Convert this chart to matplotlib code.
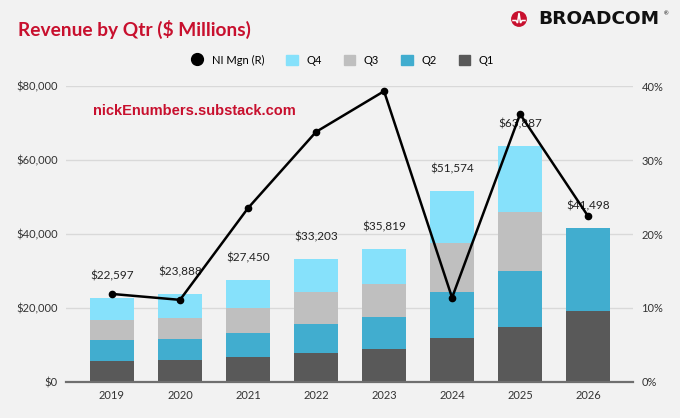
import matplotlib.pyplot as plt
from matplotlib.patches import Circle
from matplotlib.lines import Line2D
from matplotlib.patches import Patch
import numpy as np

plt.rcParams["font.family"] = ["Lato", "DejaVu Sans"]

anos = ["2019", "2020", "2021", "2022", "2023", "2024", "2025", "2026"]
q1 = [5789, 5858, 6655, 7706, 8915, 11961, 14916, 19311]
q2 = [5517, 5742, 6610, 8103, 8733, 12487, 15004, 22187]
q3 = [5515, 5821, 6778, 8464, 8876, 13072, 15952, 0]
q4 = [5776, 6467, 7407, 8930, 9295, 14054, 18015, 0]
ni_mgn = [11.9, 11.1, 23.5, 33.8, 39.3, 11.4, 36.2, 22.4]

cor_q1 = "#595959"
cor_q2 = "#41adcf"
cor_q3 = "#bfbfbf"
cor_q4 = "#86e1fb"
fundo = "#f2f2f2"
vermelho = "#c8102e"

fig = plt.figure(figsize=(6.8, 4.18), dpi=100, facecolor=fundo)
ax = fig.add_axes([66 / 680, 1 - 382 / 418, 567 / 680, 296 / 418])
ax.set_facecolor(fundo)

x = np.arange(len(anos))
largura = 0.65
base = np.zeros(len(anos))
for vals, cor in [(q1, cor_q1), (q2, cor_q2), (q3, cor_q3), (q4, cor_q4)]:
    ax.bar(x, vals, largura, bottom=base, color=cor, zorder=2)
    base = base + np.array(vals)

totais = base
for xi, tot in zip(x, totais):
    ax.annotate(f"${int(tot):,}", (xi, tot), xytext=(0, 12), textcoords="offset points",
                ha="center", va="bottom", fontsize=8.5, color="#222222", zorder=5)

ax.set_ylim(0, 80000)
ax.set_xlim(-0.676, 7.66)
ax.set_yticks(range(0, 80001, 20000))
ax.set_yticklabels([f"${v:,}" for v in range(0, 80001, 20000)], fontsize=8, color="#333333")
ax.set_xticks(x)
ax.set_xticklabels(anos, fontsize=8, color="#333333")
ax.tick_params(length=0, pad=6)
ax.grid(axis="y", color="#d9d9d9", linewidth=1, zorder=0)
for s in ["top", "right", "left"]:
    ax.spines[s].set_visible(False)
ax.spines["bottom"].set_color("#6f6f6f")
ax.spines["bottom"].set_linewidth(1.6)

# eixo direito (margem líquida)
ax2 = ax.twinx()
ax2.plot(x, ni_mgn, color="black", linewidth=1.8, marker="o", markersize=4.5, zorder=4)
ax2.set_ylim(0, 40)
ax2.set_yticks(range(0, 41, 10))
ax2.set_yticklabels([f"{v}%" for v in range(0, 41, 10)], fontsize=8, color="#333333")
ax2.tick_params(length=0, pad=6)
for s in ["top", "right", "left", "bottom"]:
    ax2.spines[s].set_visible(False)
ax2.patch.set_visible(False)

# camada por cima de tudo em pixels para o logo e títulos
topo = fig.add_axes([0, 0, 1, 1])
topo.set_xlim(0, 680)
topo.set_ylim(418, 0)
topo.axis("off")
topo.patch.set_visible(False)

topo.text(18, 29, "Revenue by Qtr ($ Millions)", fontsize=13.8,
          fontweight="bold", color=vermelho, va="center")
topo.text(93, 111, "nickEnumbers.substack.com", fontsize=10.5,
          fontweight="bold", color=vermelho, va="center", family=["Liberation Sans", "DejaVu Sans"])

topo.add_patch(Circle((519, 19), 7.2, color=vermelho))
onda_x = [513, 516, 517.5, 519, 520.5, 522, 525]
onda_y = [20.5, 20.5, 23, 13, 23, 20.5, 20.5]
topo.plot(onda_x, onda_y, color="white", linewidth=1.1, solid_joinstyle="miter")
topo.text(538, 19.5, "BROADCOM", fontsize=13.3, fontweight="bold",
          color="#111111", va="center", family=["DejaVu Sans"])
topo.text(664, 14, "®", fontsize=4, color="#111111", va="center")

# legenda
itens = [
    Line2D([0], [0], marker="o", color="none", markerfacecolor="black",
           markeredgecolor="black", markersize=8.5, label="NI Mgn (R)"),
    Patch(color=cor_q4, label="Q4"),
    Patch(color=cor_q3, label="Q3"),
    Patch(color=cor_q2, label="Q2"),
    Patch(color=cor_q1, label="Q1"),
]
fig.legend(handles=itens, loc="center", bbox_to_anchor=(343 / 680, 1 - 60 / 418), ncol=5,
           frameon=False, fontsize=8, handlelength=1.0, handleheight=1.0,
           columnspacing=2.0, handletextpad=0.8)

fig.savefig("out.png", dpi=100, facecolor=fundo)
